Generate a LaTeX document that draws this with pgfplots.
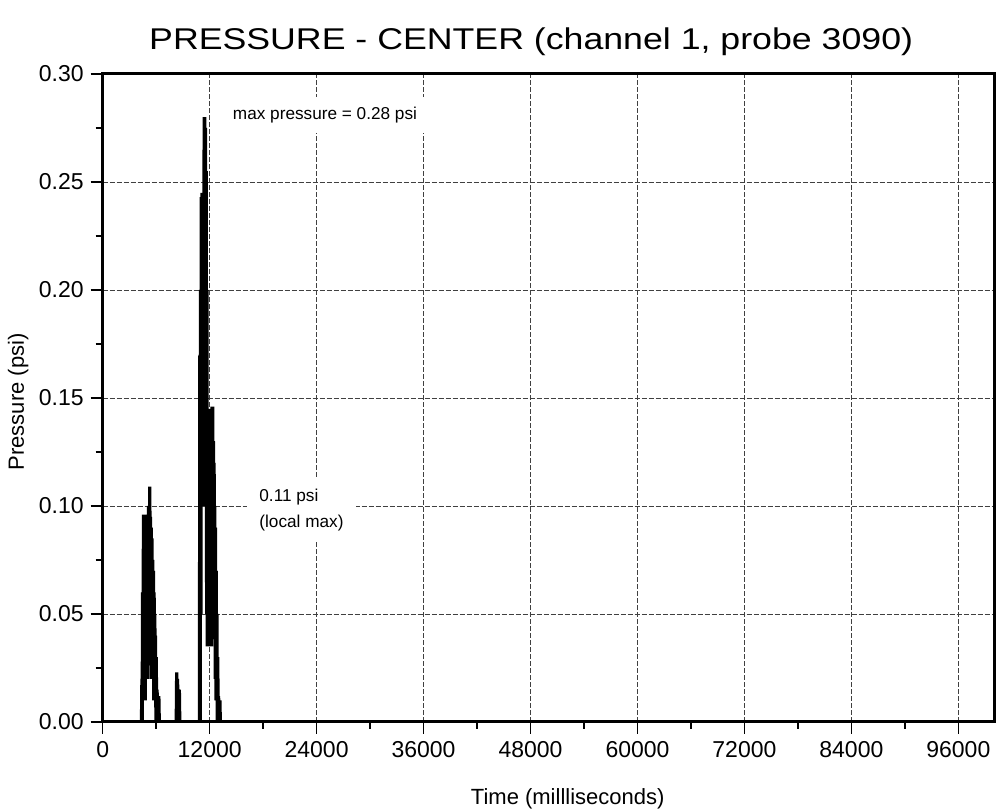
\documentclass[border=0pt]{standalone}
\usepackage{fontspec}
\setmainfont{Liberation Sans}
\usepackage{graphicx}
\usepackage{pgfplots}
\pgfplotsset{compat=1.18}
\begin{document}
\begin{tikzpicture}
\begin{axis}[
  name=ax,
  scale only axis,
  clip mode=individual,
  width=445.65pt, height=324pt,
  xmin=0, xmax=100000, ymin=0, ymax=0.30,
  xtick={0,12000,24000,36000,48000,60000,72000,84000,96000},
  ytick={0,0.05,0.10,0.15,0.20,0.25,0.30},
  minor x tick num=1, minor y tick num=1,
  xtick pos=bottom, ytick pos=left,
  tick align=outside,
  major tick length=6pt, minor tick length=3.5pt,
  every tick/.style={black, line width=0.8pt},
  axis line style={line width=1.5pt},
  grid=major,
  major grid style={dash pattern=on 2.5pt off 1pt, black!75, line width=0.45pt},
  scaled x ticks=false, scaled y ticks=false,
  /pgf/number format/assume math mode=true,
  xticklabel style={/pgf/number format/.cd, fixed, 1000 sep={}},
  yticklabel style={/pgf/number format/.cd, fixed, fixed zerofill, precision=2},
  ticklabel style={font=\fontsize{11.5}{13}\selectfont},
]
\addplot[black, line width=1.6pt, line join=bevel] table {
0 0
4350 0
4400 0.02
4430 0.0
4470 0.06
4520 0.01
4570 0.096
4610 0.02
4650 0.09
4690 0.04
4730 0.096
4770 0.01
4810 0.095
4850 0.03
4890 0.096
4930 0.02
4970 0.095
5010 0.05
5050 0.09
5090 0.02
5130 0.1
5170 0.04
5210 0.1
5250 0.03
5290 0.109
5330 0.03
5370 0.095
5410 0.05
5450 0.09
5490 0.02
5530 0.085
5570 0.03
5610 0.075
5650 0.02
5690 0.07
5730 0.01
5770 0.06
5810 0.02
5850 0.05
5890 0.01
5930 0.04
5970 0.0
6010 0.03
6050 0.005
6100 0.015
6200 0.0
6300 0.012
6350 0
8250 0
8300 0.023
8350 0
8400 0.02
8450 0.005
8500 0.012
8600 0.015
8650 0
10850 0
10900 0.17
10940 0.0
10980 0.2
11020 0.05
11060 0.243
11100 0.1
11140 0.245
11180 0.12
11220 0.245
11260 0.15
11300 0.24
11340 0.1
11380 0.28
11420 0.14
11460 0.28
11500 0.2
11540 0.275
11580 0.1
11620 0.255
11660 0.05
11700 0.2
11740 0.035
11780 0.12
11820 0.04
11860 0.11
11900 0.035
11940 0.12
11980 0.04
12020 0.125
12060 0.04
12100 0.145
12140 0.05
12180 0.14
12220 0.035
12260 0.146
12300 0.06
12340 0.146
12380 0.04
12420 0.13
12460 0.04
12500 0.12
12540 0.07
12580 0.1
12620 0.02
12660 0.09
12700 0.01
12740 0.07
12780 0.01
12820 0.05
12860 0.0
12900 0.03
12950 0.01
13000 0.012
13100 0.0
13150 0.01
13200 0
100000 0
};
\node[fill=white, inner xsep=7pt, inner ysep=5pt, font=\fontsize{8.6}{10}\selectfont] at (axis cs:24940,0.281) {max pressure = 0.28 psi};
\node[fill=white, inner xsep=6pt, inner ysep=5pt, align=left, font=\fontsize{8.6}{13}\selectfont] at (axis cs:22300,0.0981) {0.11 psi\\(local max)};
\end{axis}
\node[anchor=base, font=\fontsize{15}{18}\selectfont] at ([xshift={0.4807*445.65pt}, yshift=12pt]ax.north west) {\scalebox{1.19}[1]{PRESSURE - CENTER (channel 1, probe 3090)}};
\node[anchor=base, font=\fontsize{11}{13}\selectfont] at ([xshift={0.5217*445.65pt}, yshift=-41.5pt]ax.south west) {Time (millliseconds)};
\node[rotate=90, font=\fontsize{11}{13}\selectfont] at ([xshift=-42.3pt, yshift={0.494*324pt}]ax.south west) {Pressure (psi)};
\pgfresetboundingbox
\path ([shift={(-51.35pt,-45pt)}]ax.south west) rectangle ([shift={(1.5pt,37pt)}]ax.north east);
\end{tikzpicture}
\end{document}
